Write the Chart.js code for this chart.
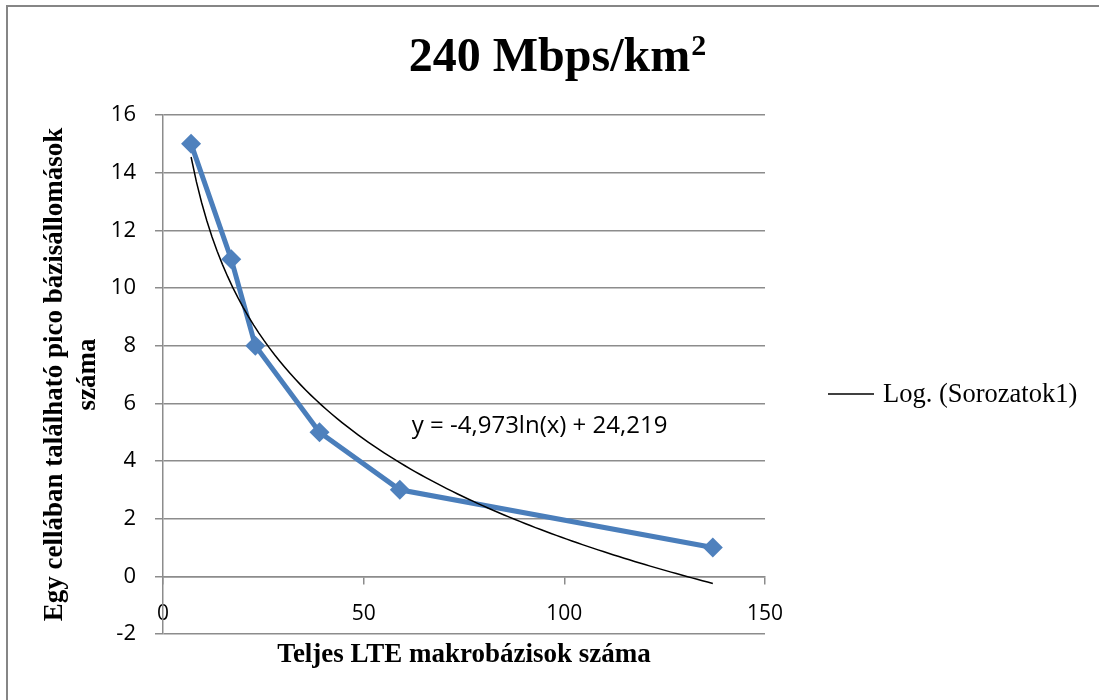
<!DOCTYPE html>
<html lang="hu">
<head>
    <meta charset="UTF-8">
    <title>240 Mbps/km2</title>
    <script src="https://cdn.jsdelivr.net/npm/chart.js"></script>
    <style>
        body { margin: 0; background: #fff; }
        #wrap { width: 1099px; height: 700px; }
    </style>
</head>
<body>
    <div id="wrap">
        <canvas id="chart" width="1099" height="700"></canvas>
    </div>
<script>
    // adatok
    const makroBazisok = [7, 17, 23, 39, 59, 137];
    const picoBazisok = [15, 11, 8, 5, 3, 1];
    const xTicks = [0, 50, 100, 150];
    const yTicks = [-2, 0, 2, 4, 6, 8, 10, 12, 14, 16];

    const titleMain = '240 Mbps/km';
    const titleSup = '2';
    const xTitle = 'Teljes LTE makrobázisok száma';
    const yTitle = ['Egy cellában található pico bázisállomások', 'száma'];
    const trendLabel = 'Log. (Sorozatok1)';
    const equationText = 'y = -4,973ln(x) + 24,219';

    // logaritmikus trendvonal: legkisebb négyzetek az adatokra
    const lnX = makroBazisok.map(v => Math.log(v));
    const n = lnX.length;
    const mLn = lnX.reduce((s, v) => s + v, 0) / n;
    const mY = picoBazisok.reduce((s, v) => s + v, 0) / n;
    let sxy = 0, sxx = 0;
    for (let i = 0; i < n; i++) {
        sxy += (lnX[i] - mLn) * (picoBazisok[i] - mY);
        sxx += (lnX[i] - mLn) * (lnX[i] - mLn);
    }
    const slope = sxy / sxx;
    const intercept = mY - slope * mLn;
    const xMin = Math.min(...makroBazisok), xMax = Math.max(...makroBazisok);
    const trendPoints = [];
    for (let i = 0; i <= 100; i++) {
        const x = xMin + (xMax - xMin) * i / 100;
        trendPoints.push({ x: x, y: slope * Math.log(x) + intercept });
    }

    const gridColor = '#8c8c8c';
    const serif = '"Liberation Serif", "Times New Roman", serif';
    const sans = '"Open Sans", "Liberation Sans", sans-serif';

    // keret, cím, jelmagyarázat, egyenlet, x tengely címe
    const decor = {
        id: 'decor',
        beforeDraw(chart) {
            const ctx = chart.ctx;
            ctx.save();
            ctx.fillStyle = '#fff';
            ctx.fillRect(0, 0, chart.width, chart.height);
            ctx.strokeStyle = '#868686';
            ctx.lineWidth = 2;
            ctx.beginPath();
            ctx.moveTo(7, chart.height);
            ctx.lineTo(7, 6);
            ctx.lineTo(chart.width, 6);
            ctx.stroke();
            ctx.restore();
        },
        afterDatasetsDraw(chart) {
            const ctx = chart.ctx;
            const {x, y} = chart.scales;
            const area = chart.chartArea;
            ctx.save();
            ctx.fillStyle = '#000';

            // cím felső indexszel
            ctx.textBaseline = 'alphabetic';
            ctx.textAlign = 'left';
            ctx.font = 'bold 48px ' + serif;
            const wMain = ctx.measureText(titleMain).width;
            ctx.font = 'bold 30px ' + serif;
            const wSup = ctx.measureText(titleSup).width;
            const tx = 557 - (wMain + wSup) / 2;
            ctx.font = 'bold 48px ' + serif;
            ctx.fillText(titleMain, tx, 71);
            ctx.font = 'bold 30px ' + serif;
            ctx.fillText(titleSup, tx + wMain + 1, 55);

            // egyenlet
            ctx.font = '24px ' + sans;
            ctx.textBaseline = 'middle';
            ctx.fillText(equationText, x.getPixelForValue(62), y.getPixelForValue(5.2));

            // x tengely címe
            ctx.font = 'bold 27px ' + serif;
            ctx.textAlign = 'center';
            ctx.fillText(xTitle, (area.left + area.right) / 2, area.bottom + 21);

            // jelmagyarázat (csak a trendvonal)
            const ds = chart.data.datasets[1];
            const ly = 394;
            ctx.strokeStyle = ds.borderColor;
            ctx.lineWidth = ds.borderWidth;
            ctx.beginPath();
            ctx.moveTo(828, ly);
            ctx.lineTo(874, ly);
            ctx.stroke();
            ctx.font = '26.5px ' + serif;
            ctx.textAlign = 'left';
            ctx.fillText(ds.label, 883, ly + 1);
            ctx.restore();
        }
    };

    new Chart(document.getElementById('chart').getContext('2d'), {
        type: 'scatter',
        data: {
            datasets: [{
                label: 'Sorozatok1',
                data: makroBazisok.map((v, i) => ({ x: v, y: picoBazisok[i] })),
                showLine: true,
                borderColor: '#4a7ebb',
                backgroundColor: '#4f81bd',
                borderWidth: 5,
                pointStyle: 'rectRot',
                pointRadius: 10,
                pointBorderWidth: 0,
                order: 1
            }, {
                label: trendLabel,
                data: trendPoints,
                showLine: true,
                borderColor: '#000',
                backgroundColor: '#000',
                borderWidth: 1.5,
                pointRadius: 0,
                tension: 0,
                order: 0
            }]
        },
        options: {
            responsive: false,
            animation: false,
            layout: { padding: { left: 0, right: 334, top: 115, bottom: 66 } },
            plugins: {
                title: { display: false },
                legend: { display: false },
                tooltip: { enabled: false }
            },
            scales: {
                x: {
                    type: 'linear',
                    position: { y: 0 },
                    min: xTicks[0],
                    max: xTicks[xTicks.length - 1],
                    afterBuildTicks: s => { s.ticks = xTicks.map(v => ({ value: v })); },
                    grid: { drawOnChartArea: false, drawTicks: true, tickLength: 7, color: gridColor, lineWidth: 1.5 },
                    border: { display: true, color: gridColor, width: 1.5 },
                    ticks: { color: '#000', padding: 18, maxRotation: 0, font: { family: sans, size: 21 } }
                },
                y: {
                    type: 'linear',
                    position: 'left',
                    min: yTicks[0],
                    max: yTicks[yTicks.length - 1],
                    afterBuildTicks: s => { s.ticks = yTicks.map(v => ({ value: v })); },
                    afterFit: s => { s.width = 163; },
                    grid: { color: gridColor, lineWidth: 1.5, tickLength: 8 },
                    border: { display: true, color: gridColor, width: 1.5 },
                    ticks: { color: '#000', padding: 19, font: { family: sans, size: 22 } },
                    title: {
                        display: true,
                        text: yTitle,
                        color: '#000',
                        font: { family: serif, size: 27, weight: 'bold', lineHeight: 1.2 },
                        padding: { top: 39, bottom: 0 }
                    }
                }
            }
        },
        plugins: [decor]
    });
</script>
</body>
</html>
